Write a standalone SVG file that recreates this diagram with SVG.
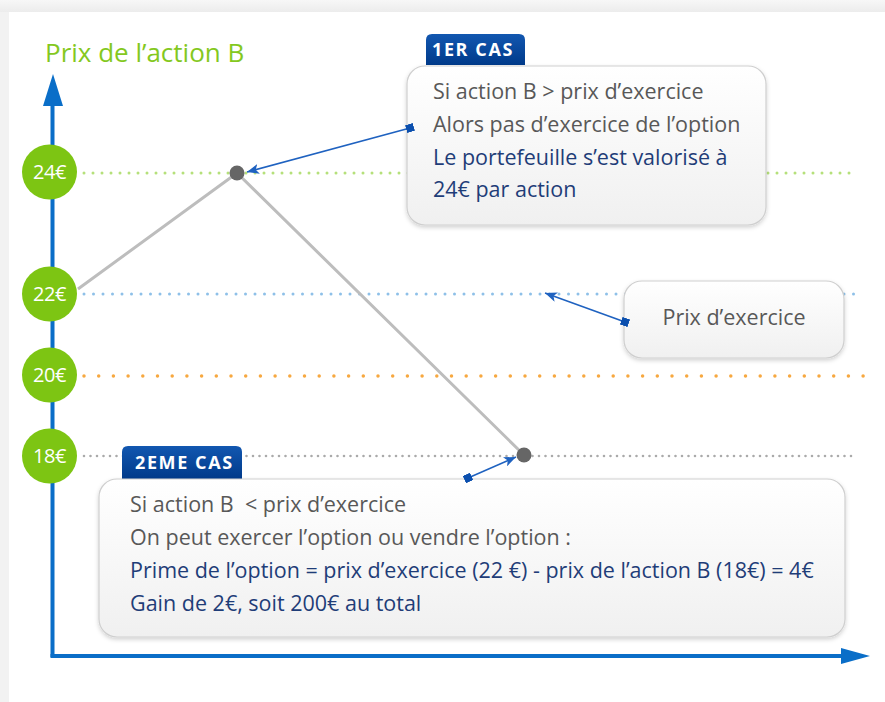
<svg xmlns="http://www.w3.org/2000/svg" width="885" height="702" viewBox="0 0 885 702">
<style>
.txt{font-family:"Open Sans","Liberation Sans",sans-serif;font-size:21.5px;}
.gray{fill:#585858;}
.navy{fill:#1f3d78;}
.tabtxt{font-family:"Open Sans","Liberation Sans",sans-serif;font-size:18px;font-weight:bold;fill:#ffffff;letter-spacing:1.6px;}
.lbl{font-family:"Open Sans","Liberation Sans",sans-serif;font-size:20px;fill:#ffffff;text-anchor:middle;letter-spacing:-0.5px;}
.box{fill:url(#boxg);stroke:#cfcfcf;stroke-width:1.2;filter:url(#sh);}
.tab{fill:url(#tabg);}
.conn{stroke:#1f62c0;stroke-width:1.6;fill:none;marker-end:url(#arr);marker-start:url(#sq);}
.dot{stroke-linecap:round;fill:none;}
</style>
<defs>
<linearGradient id="boxg" x1="0" y1="0" x2="0" y2="1">
<stop offset="0" stop-color="#ffffff"/>
<stop offset="1" stop-color="#f0f0f0"/>
</linearGradient>
<linearGradient id="tabg" x1="0" y1="0" x2="0" y2="1">
<stop offset="0" stop-color="#1257b0"/>
<stop offset="1" stop-color="#003a8a"/>
</linearGradient>
<linearGradient id="topg" x1="0" y1="0" x2="0" y2="1">
<stop offset="0" stop-color="#f7f7f7"/>
<stop offset="1" stop-color="#ececec"/>
</linearGradient>
<filter id="sh" x="-10%" y="-10%" width="120%" height="130%">
<feDropShadow dx="0" dy="2" stdDeviation="2" flood-color="#000" flood-opacity="0.18"/>
</filter>
<marker id="arr" viewBox="0 0 12 10" refX="12" refY="5" markerWidth="12" markerHeight="10" markerUnits="userSpaceOnUse" orient="auto">
<path d="M0,0 L12,5 L0,10 L3,5 Z" fill="#1f62c0"/>
</marker>
<marker id="sq" viewBox="0 0 8 8" refX="4" refY="4" markerWidth="8" markerHeight="8" markerUnits="userSpaceOnUse" orient="auto">
<rect x="0" y="0" width="8" height="8" fill="#0b4fae"/>
</marker>
</defs>
<rect x="0" y="0" width="885" height="702" fill="#f2f2f2"/>
<rect x="0" y="0" width="885" height="12" fill="url(#topg)"/>
<rect x="9" y="12" width="876" height="690" fill="#ffffff"/>
<g id="title"><text x="45" y="62" style="font-family:'Open Sans','Liberation Sans',sans-serif;font-size:26px;fill:#84c81e;">Prix de l’action B</text></g>
<g id="gridlines">
<line class="dot" x1="84" y1="173" x2="855" y2="173" stroke="#b5e07a" stroke-width="3" stroke-dasharray="0 9"/>
<line class="dot" x1="84" y1="294" x2="855" y2="294" stroke="#8ec0e8" stroke-width="3" stroke-dasharray="0 9.5"/>
<line class="dot" x1="84" y1="376" x2="864" y2="376" stroke="#f7a840" stroke-width="3.5" stroke-dasharray="0 14.7"/>
<line class="dot" x1="84" y1="456" x2="857" y2="456" stroke="#aaaaaa" stroke-width="2.6" stroke-dasharray="0 6.5"/>
</g>
<g id="axes">
<line x1="52.5" y1="100" x2="52.5" y2="657" stroke="#0a6ec8" stroke-width="4"/>
<path d="M43,106 L53,74 L63,106 Z" fill="#0a6ec8"/>
<line x1="50.5" y1="656" x2="846" y2="656" stroke="#0a6ec8" stroke-width="4"/>
<path d="M841,648 L870,656 L841,664 Z" fill="#0a6ec8"/>
</g>
<g id="price-line">
<polyline points="78,289 237,173 524,455" fill="none" stroke="#bdbdbd" stroke-width="3"/>
<circle cx="237" cy="173" r="7.5" fill="#666666"/>
<circle cx="524" cy="455" r="7.5" fill="#666666"/>
</g>
<g id="label-24"><circle cx="49.5" cy="172" r="27.5" fill="#7dc513"/><text class="lbl" x="49.5" y="179">24€</text></g>
<g id="label-22"><circle cx="49.5" cy="294" r="27.5" fill="#7dc513"/><text class="lbl" x="49.5" y="301">22€</text></g>
<g id="label-20"><circle cx="49.5" cy="375" r="27.5" fill="#7dc513"/><text class="lbl" x="49.5" y="382">20€</text></g>
<g id="label-18"><circle cx="49.5" cy="456" r="27.5" fill="#7dc513"/><text class="lbl" x="49.5" y="463">18€</text></g>
<g id="case1">
<path class="tab" d="M426,65 L426,40 Q426,34 432,34 L519,34 Q525,34 525,40 L525,65 Z"/>
<text class="tabtxt" x="432" y="56">1ER CAS</text>
<rect class="box" x="407" y="66" width="359" height="159" rx="18"/>
<text class="txt gray" x="433" y="99">Si action B &gt; prix d’exercice</text>
<text class="txt gray" x="433" y="132">Alors pas d’exercice de l’option</text>
<text class="txt navy" x="433" y="165">Le portefeuille s’est valorisé à</text>
<text class="txt navy" x="433" y="197">24€ par action</text>
</g>
<g id="strike">
<rect class="box" x="624" y="281" width="220" height="77" rx="18"/>
<text class="txt gray" x="734" y="325" text-anchor="middle">Prix d’exercice</text>
</g>
<g id="case2">
<path class="tab" d="M122,479 L122,452 Q122,446 128,446 L236,446 Q242,446 242,452 L242,479 Z"/>
<text class="tabtxt" x="135" y="469">2EME CAS</text>
<rect class="box" x="99" y="479" width="746" height="158" rx="18"/>
<text class="txt gray" x="130" y="512" xml:space="preserve">Si action B  &lt; prix d’exercice</text>
<text class="txt gray" x="130" y="545">On peut exercer l’option ou vendre l’option :</text>
<text class="txt navy" x="130" y="578">Prime de l’option = prix d’exercice (22 €) - prix de l’action B (18€) = 4€</text>
<text class="txt navy" x="130" y="611">Gain de 2€, soit 200€ au total</text>
</g>
<g id="connectors">
<line class="conn" x1="410" y1="128" x2="247" y2="172"/>
<line class="conn" x1="625" y1="322" x2="545" y2="293"/>
<line class="conn" x1="468" y1="478" x2="516" y2="457"/>
</g>
</svg>
